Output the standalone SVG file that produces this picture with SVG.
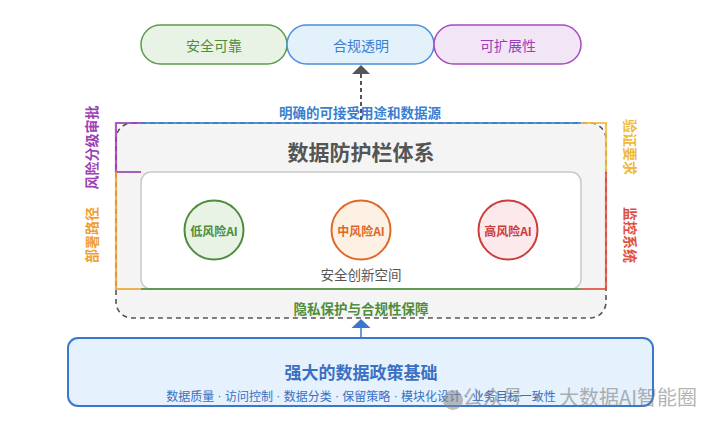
<svg xmlns="http://www.w3.org/2000/svg" width="724" height="425" viewBox="0 0 724 425">
<defs>
<style>
text{font-family:"Noto Sans CJK SC","Liberation Sans",sans-serif;text-anchor:middle;dominant-baseline:central}
.pill{stroke-width:1.5}
.side{font-size:14px;font-weight:bold}
.cir{stroke-width:2}
.clab{font-size:12px;font-weight:bold}
.edge{stroke-width:2.2;fill:none;opacity:0.85}
.dot{font-family:"Liberation Sans",sans-serif}
</style>
</defs>
<rect width="724" height="425" fill="#ffffff"/>

<g id="pill-safe">
<rect class="pill" x="141" y="25" width="146" height="39" rx="19.5" fill="#e8f3e6" stroke="#5d9b4c"/>
<text x="214" y="45" font-size="14" fill="#4e8d3c">安全可靠</text>
</g>
<g id="pill-compliance">
<rect class="pill" x="287" y="25" width="147" height="39" rx="19.5" fill="#e3f1fb" stroke="#4a90d9"/>
<text x="361" y="45" font-size="14" fill="#3a80d0">合规透明</text>
</g>
<g id="pill-scale">
<rect class="pill" x="434" y="25" width="147" height="39" rx="19.5" fill="#f2e5f6" stroke="#a64cbf"/>
<text x="508" y="45" font-size="14" fill="#9c3fb5">可扩展性</text>
</g>

<g id="frame">
<rect x="116" y="123" width="490" height="195" rx="16" fill="#f4f4f4" stroke="#555" stroke-width="1.6" stroke-dasharray="5,4"/>
<text x="361" y="151" font-size="21" font-weight="bold" fill="#555">数据防护栏体系</text>
</g>

<g id="space">
<rect x="141" y="172" width="440" height="117" rx="10" fill="#ffffff" stroke="#c8c8c8" stroke-width="1.5"/>
<text x="361" y="274" font-size="13.5" fill="#555">安全创新空间</text>
</g>

<g id="low-risk">
<circle class="cir" cx="214" cy="230" r="29.5" fill="#e8f3e6" stroke="#4e8d3c"/>
<text class="clab" x="214" y="230" fill="#4e8d3c">低风险AI</text>
</g>
<g id="mid-risk">
<circle class="cir" cx="361" cy="230" r="29.5" fill="#fdf1e3" stroke="#e0692a"/>
<text class="clab" x="361" y="230" fill="#e0692a">中风险AI</text>
</g>
<g id="high-risk">
<circle class="cir" cx="508" cy="230" r="29.5" fill="#fbe9eb" stroke="#cc3d3d"/>
<text class="clab" x="508" y="230" fill="#cc3d3d">高风险AI</text>
</g>

<g id="edges">
<path class="edge" d="M141,123 H581" stroke="#3a80d0"/>
<path class="edge" d="M141,123 H116 V172 H141" stroke="#9c3fb5"/>
<path class="edge" d="M116,172 V289 H141" stroke="#f0a030"/>
<path class="edge" d="M581,123 H606 V172" stroke="#f0b93a"/>
<path class="edge" d="M606,172 V289 H581" stroke="#e05040"/>
<path class="edge" d="M141,289 H581" stroke="#4e8d3c"/>
</g>

<g id="labels">
<text x="360" y="112" font-size="13.5" font-weight="bold" fill="#3a80d0">明确的可接受用途和数据源</text>
<text x="361" y="308" font-size="13.5" font-weight="bold" fill="#4e8d3c">隐私保护与合规性保障</text>
<text class="side" transform="translate(91,147.5) rotate(-90)" fill="#9c3fb5">风险分级审批</text>
<text class="side" transform="translate(91,235) rotate(-90)" fill="#f0a030">部署路径</text>
<text class="side" transform="translate(631,147) rotate(90)" fill="#f0b93a">验证要求</text>
<text class="side" transform="translate(631,235) rotate(90)" fill="#e05040">监控系统</text>
</g>

<g id="connectors">
<line x1="361" y1="74" x2="361" y2="123" stroke="#555" stroke-width="2" stroke-dasharray="4,3"/>
<polygon points="361,65 352,74 370,74" fill="#555"/>
<line x1="361" y1="328" x2="361" y2="338" stroke="#3a78d0" stroke-width="1.5"/>
<polygon points="361,319 351.5,328 370.5,328" fill="#3a78d0"/>
</g>

<g id="foundation">
<rect x="68" y="338" width="585" height="68" rx="10" fill="#e5f1fc" stroke="#3a78d0" stroke-width="2"/>
<text x="361" y="371" font-size="17" font-weight="bold" fill="#3a70c4">强大的数据政策基础</text>
<text x="361" y="395.5" font-size="12" fill="#3a70c4">数据质量<tspan class="dot"> · </tspan>访问控制<tspan class="dot"> · </tspan>数据分类<tspan class="dot"> · </tspan>保留策略<tspan class="dot"> · </tspan>模块化设计<tspan class="dot"> · </tspan>业务目标一致性</text>
</g>

<g id="watermark" opacity="0.55">
<circle cx="453" cy="400" r="10" fill="#888"/>
<text x="505" y="396" font-size="20" fill="#777">公众号 ·</text>
<text x="628" y="396" font-size="20" fill="#777">大数据AI智能圈</text>
</g>
</svg>
